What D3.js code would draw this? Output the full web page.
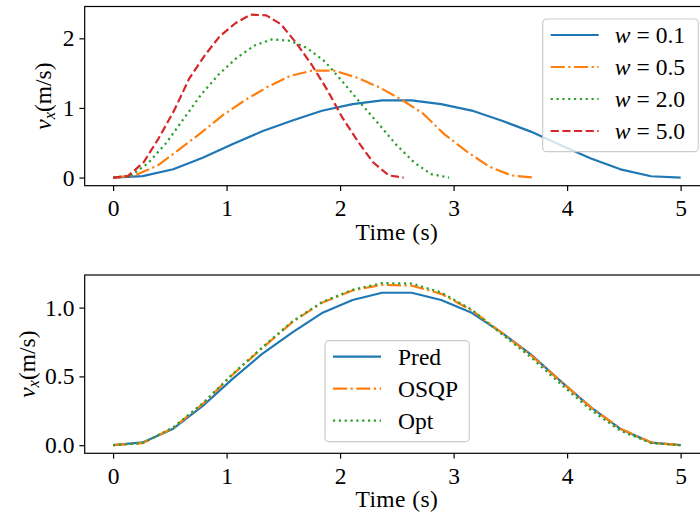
<!DOCTYPE html>
<html>
<head>
<meta charset="utf-8">
<script src="https://cdn.jsdelivr.net/npm/d3@7"></script>
<style>
  body { margin: 0; background: #fff; }
  svg { display: block; font-family: 'Liberation Serif', serif; }
</style>
</head>
<body>
<div class="vis"></div>
<script>
  let width = 700
  let height = 518

  // --- data ---
  let xTicks = [0, 1, 2, 3, 4, 5]
  let topYTicks = [0, 1, 2]
  let botYTicks = [0, 0.5, 1.0]

  let tW01 = [0, 0.26, 0.53, 0.79, 1.05, 1.32, 1.58, 1.84, 2.11, 2.37, 2.63, 2.89, 3.16, 3.42, 3.68, 3.95, 4.21, 4.47, 4.74, 5.0]
  let vW01 = [0, 0.02, 0.12, 0.285, 0.48, 0.668, 0.82, 0.96, 1.055, 1.108, 1.108, 1.055, 0.962, 0.82, 0.66, 0.46, 0.275, 0.118, 0.019, 0]

  let tW05 = [0, 0.19, 0.39, 0.58, 0.78, 0.97, 1.17, 1.36, 1.56, 1.75, 1.95, 2.14, 2.34, 2.53, 2.73, 2.92, 3.12, 3.31, 3.51, 3.70]
  let vW05 = [0, 0.03, 0.17, 0.40, 0.65, 0.90, 1.12, 1.30, 1.46, 1.535, 1.535, 1.44, 1.30, 1.13, 0.92, 0.62, 0.37, 0.16, 0.03, 0]

  let tW20 = [0, 0.16, 0.31, 0.47, 0.62, 0.78, 0.93, 1.09, 1.25, 1.40, 1.56, 1.71, 1.87, 2.02, 2.18, 2.34, 2.49, 2.65, 2.80, 2.96]
  let vW20 = [0, 0.03, 0.21, 0.50, 0.84, 1.20, 1.48, 1.72, 1.90, 1.985, 1.965, 1.86, 1.66, 1.38, 1.07, 0.77, 0.48, 0.22, 0.05, 0]

  let tW50 = [0, 0.13, 0.27, 0.40, 0.54, 0.67, 0.81, 0.94, 1.08, 1.21, 1.35, 1.48, 1.62, 1.75, 1.89, 2.02, 2.16, 2.29, 2.43, 2.56]
  let vW50 = [0, 0.02, 0.22, 0.56, 0.97, 1.42, 1.76, 2.03, 2.22, 2.34, 2.33, 2.20, 1.92, 1.62, 1.25, 0.86, 0.51, 0.22, 0.03, 0]

  let tPred = tW01
  let vPred = vW01
  let vOSQP = [0, 0.015, 0.125, 0.30, 0.51, 0.71, 0.895, 1.035, 1.125, 1.165, 1.16, 1.10, 0.98, 0.82, 0.655, 0.46, 0.275, 0.12, 0.02, 0]
  let vOpt = [0, 0.015, 0.13, 0.305, 0.515, 0.715, 0.90, 1.04, 1.13, 1.178, 1.175, 1.11, 0.985, 0.81, 0.64, 0.44, 0.255, 0.105, 0.015, 0]

  let topLabels = ['0.1', '0.5', '2.0', '5.0']
  let botLabels = ['Pred', 'OSQP', 'Opt']

  // --- styling ---
  let lw = 2.2
  let fs = 23.5
  let styles = [
    { color: '#1f77b4', dash: null },
    { color: '#ff7f0e', dash: [6.4, 1.6, 1, 1.6].map(d => d * lw).join(',') },
    { color: '#2ca02c', dash: [1, 1.65].map(d => d * lw).join(',') },
    { color: '#d62728', dash: [3.7, 1.6].map(d => d * lw).join(',') },
  ]

  let zip = (ts, vs) => ts.map((t, i) => ({ t: t, v: vs[i] }))

  let svg = d3.select('.vis').append('svg')
    .attr('width', width).attr('height', height)
    .attr('viewBox', [0, 0, width, height])

  svg.append('rect').attr('width', width).attr('height', height).attr('fill', '#fff')

  let pad = (lo, hi) => { let m = (hi - lo) * 0.05; return [lo - m, hi + m] }

  function panel(opt) {
    let { top, bottom, left, right, series, yTicks, yFmt, legend, labelX, clipId } = opt
    let allV = series.flatMap(s => s.data.map(d => d.v))
    let x = d3.scaleLinear().domain(pad(0, 5)).range([left, right])
    let y = d3.scaleLinear().domain(pad(d3.min(allV), d3.max(allV))).range([bottom, top])

    let g = svg.append('g')

    svg.append('clipPath').attr('id', clipId)
      .append('rect').attr('x', left).attr('y', top).attr('width', right - left).attr('height', bottom - top)

    let line = d3.line().x(d => x(d.t)).y(d => y(d.v))
    g.append('g').attr('clip-path', `url(#${clipId})`)
      .selectAll('path')
      .data(series)
      .join('path')
        .attr('d', s => line(s.data))
        .attr('fill', 'none')
        .attr('stroke', s => s.style.color)
        .attr('stroke-width', lw)
        .attr('stroke-dasharray', s => s.style.dash)
        .attr('stroke-linejoin', 'round')

    // axes
    let xAxis = g.append('g')
      .attr('transform', `translate(0,${bottom})`)
      .call(d3.axisBottom(x).tickValues(xTicks).tickSize(5.3).tickPadding(4).tickFormat(d3.format('d')))
    let yAxis = g.append('g')
      .attr('transform', `translate(${left},0)`)
      .call(d3.axisLeft(y).tickValues(yTicks).tickSize(5.3).tickPadding(5).tickFormat(yFmt))
    ;[xAxis, yAxis].forEach(a => {
      a.select('.domain').remove()
      a.selectAll('line').attr('stroke', '#000').attr('stroke-width', 1.2)
      a.selectAll('text').attr('fill', '#000').style('font-size', fs + 'px').style('font-family', 'Liberation Serif')
    })
    xAxis.selectAll('text').attr('dy', '0.9em')

    g.append('rect')
      .attr('x', left).attr('y', top).attr('width', right - left).attr('height', bottom - top)
      .attr('fill', 'none').attr('stroke', '#000').attr('stroke-width', 1.2)

    g.append('text')
      .attr('x', (left + right) / 2).attr('y', bottom + 54)
      .attr('text-anchor', 'middle')
      .style('font-size', fs + 'px')
      .style('letter-spacing', '0.4px')
      .text('Time (s)')

    let yl = g.append('text')
      .attr('transform', `translate(${labelX},${(top + bottom) / 2})rotate(-90)`)
      .attr('text-anchor', 'middle')
      .style('font-size', fs + 'px')
    yl.append('tspan').style('font-style', 'italic').text('v')
    yl.append('tspan').style('font-style', 'italic').style('font-size', (fs * 0.7) + 'px').attr('dy', 4).text('x')
    yl.append('tspan').attr('dy', -4).text('(m/s)')

    // legend
    let lg = g.append('g')
    lg.append('rect')
      .attr('x', legend.x).attr('y', legend.y).attr('width', legend.w).attr('height', legend.h)
      .attr('rx', 4)
      .attr('fill', '#fff').attr('fill-opacity', 0.8)
      .attr('stroke', '#ccc').attr('stroke-width', 1.2)
    let rows = lg.selectAll('g.row')
      .data(series)
      .join('g')
        .attr('class', 'row')
        .attr('transform', (d, i) => `translate(${legend.x + 8},${legend.y + legend.first + i * legend.step})`)
    rows.append('line')
      .attr('x1', 0).attr('x2', 48)
      .attr('stroke', s => s.style.color)
      .attr('stroke-width', lw)
      .attr('stroke-dasharray', s => s.style.dash)
    rows.each(function (s) {
      let t = d3.select(this).append('text')
        .attr('x', legend.textX).attr('y', 0).attr('dy', '0.35em')
        .style('font-size', fs + 'px')
      if (s.math) {
        t.append('tspan').style('font-style', 'italic').text('w')
        t.append('tspan').attr('dx', 6).text('=')
        t.append('tspan').attr('dx', 6).text(s.label)
      } else {
        t.text(s.label)
      }
    })
  }

  let topData = [zip(tW01, vW01), zip(tW05, vW05), zip(tW20, vW20), zip(tW50, vW50)]
  panel({
    top: 6.5, bottom: 185.7, left: 84.7, right: 709,
    series: topData.map((d, i) => ({ data: d, style: styles[i], label: topLabels[i], math: true })),
    yTicks: topYTicks, yFmt: d3.format('d'),
    legend: { x: 542.7, y: 19, w: 155.6, h: 132.7, first: 16, step: 32, textX: 64 },
    labelX: 51, clipId: 'clipTop'
  })

  let botData = [zip(tPred, vPred), zip(tPred, vOSQP), zip(tPred, vOpt)]
  panel({
    top: 275, bottom: 453.3, left: 84.7, right: 709,
    series: botData.map((d, i) => ({ data: d, style: styles[i], label: botLabels[i], math: false })),
    yTicks: botYTicks, yFmt: d3.format('.1f'),
    legend: { x: 325, y: 340.7, w: 144.3, h: 101, first: 16, step: 32, textX: 65 },
    labelX: 35, clipId: 'clipBot'
  })
</script>
</body>
</html>
